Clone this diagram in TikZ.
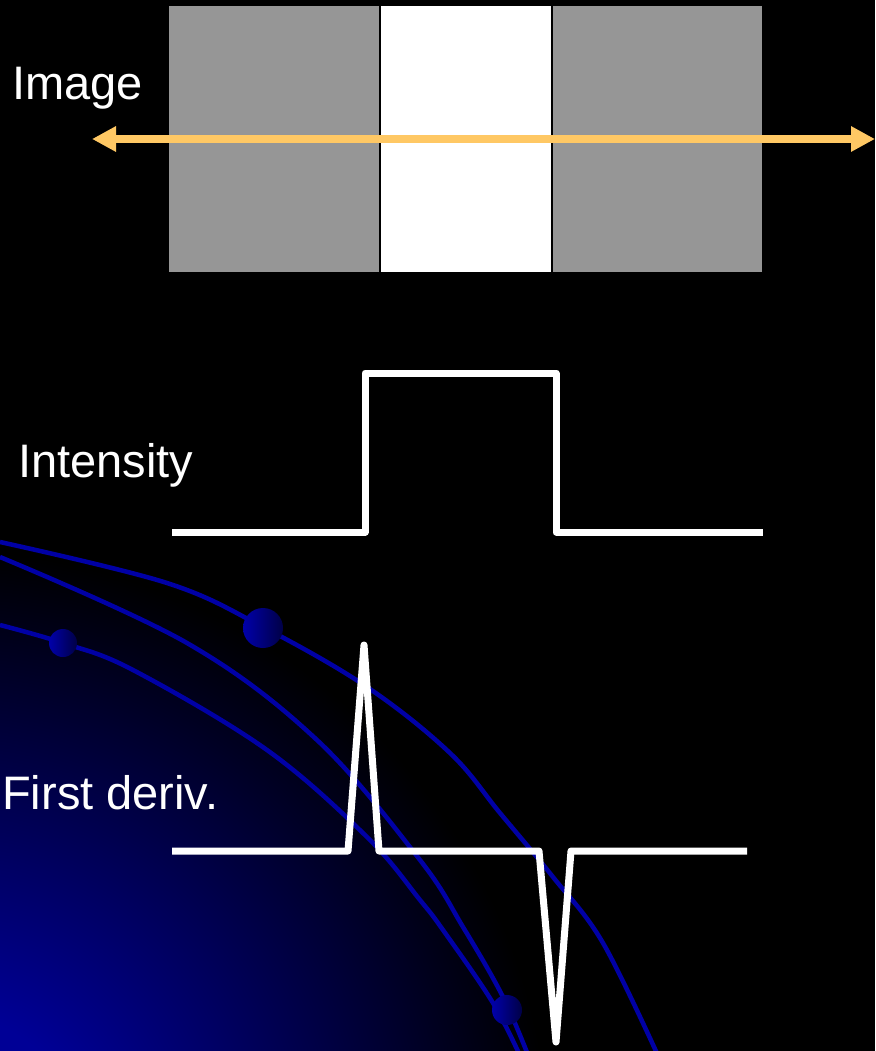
\documentclass[tikz,border=0pt]{standalone}
\usepackage{fontspec}
\setmainfont{Liberation Sans}
\usetikzlibrary{arrows.meta}
\definecolor{grayblock}{RGB}{150,150,150}
\definecolor{arrowgold}{RGB}{255,200,100}
\definecolor{swirlblue}{RGB}{0,0,150}
\definecolor{arcblue}{RGB}{0,0,165}
\definecolor{dotlight}{RGB}{0,0,170}
\definecolor{dotdark}{RGB}{0,0,70}
\pgfdeclareradialshading{swirl}{\pgfpointorigin}{color(0bp)=(swirlblue); color(6bp)=(swirlblue); color(25bp)=(black); color(50bp)=(black)}
\begin{document}
\begin{tikzpicture}
  [x=1pt, y=-1pt,
   label/.style={anchor=base west, inner sep=0pt, text=white, font=\fontsize{47}{56}\selectfont},
   arcline/.style={draw=arcblue, line width=4.5pt},
   dot/.style={left color=dotlight, right color=dotdark},
   signal/.style={draw=white, line width=7pt, line join=round}]
  \useasboundingbox (0, 0) rectangle (875, 1051);
  \fill [black] (0, 0) rectangle (875, 1051);
  \begin{scope}
    \clip (0, 0) rectangle (875, 1051);
    \shade [shading=swirl] (-60, 1160) circle (610);
    \draw [arcline] plot [smooth, tension=0.6] coordinates {(0, 542) (167, 583) (263, 627) (367, 687) (450, 753) (500, 813) (553, 877) (603, 943) (660, 1060)};
    \draw [arcline] plot [smooth, tension=0.6] coordinates {(0, 557) (187, 643) (317, 740) (420, 860) (463, 927) (503, 997) (530, 1060)};
    \draw [arcline] plot [smooth, tension=0.6] coordinates {(0, 625) (63, 643) (133, 670) (267, 750) (367, 837) (420, 900) (443, 930) (493, 1003) (522, 1060)};
    \shade [dot] (63, 643) circle (14);
    \shade [dot] (263, 628) circle (20);
    \shade [dot] (507, 1010) circle (15);
  \end{scope}
  \fill [grayblock] (169, 6) rectangle (380, 272);
  \fill [white] (380, 6) rectangle (552, 272);
  \fill [grayblock] (552, 6) rectangle (762, 272);
  \draw [black, line width=1.5pt] (380, 6) -- (380, 272);
  \draw [black, line width=2pt] (552, 6) -- (552, 272);
  \coordinate (arrowL) at (92, 139);
  \coordinate (arrowR) at (875, 139);
  \draw [arrowgold, line width=8pt, {Triangle[length=24pt, width=24pt]}-{Triangle[length=24pt, width=24pt]}] (arrowL) -- (arrowR);
  \node (image) [label] at (12, 100) {Image};
  \node (intensity) [label] at (18, 477) {Intensity};
  \node (deriv) [label] at (2, 809) {First deriv.};
  \draw [signal] (172, 532) -- (365, 532) -- (365, 373) -- (556, 373) -- (556, 532) -- (763, 532);
  \draw [signal] (172, 851) -- (348, 851) -- (364, 645) -- (379, 851) -- (539, 851) -- (556, 1042) -- (571, 851) -- (747, 851);
\end{tikzpicture}
\end{document}
